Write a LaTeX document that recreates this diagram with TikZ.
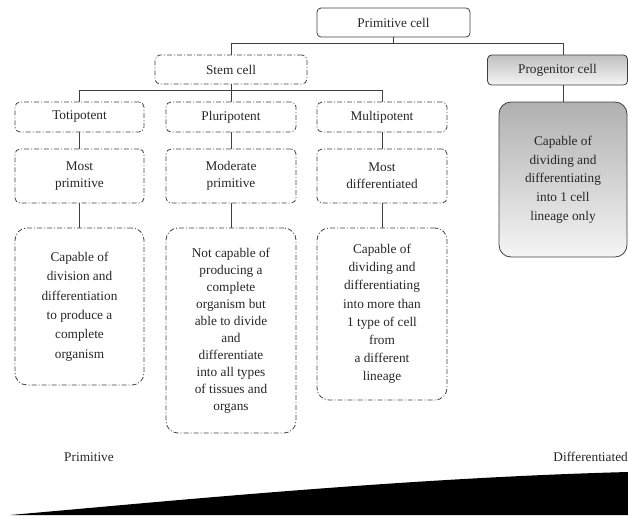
\documentclass[tikz,border=0pt]{standalone}
\usepackage{fontspec}
\setmainfont{Liberation Serif}
\usetikzlibrary{shadings}
\definecolor{ln}{gray}{0.25}
\tikzset{
  conn/.style={draw=ln, line width=0.9pt},
  dd/.style={draw=ln, line width=0.8pt, dash pattern=on 5pt off 2pt on 1pt off 2pt,
    rounded corners=5pt, inner sep=0pt, align=center, text=black!85},
  ddbig/.style={dd, rounded corners=12pt},
  solidbox/.style={draw=ln, line width=0.8pt, rounded corners=4pt, inner sep=0pt,
    align=center, text=black!85},
  lbl/.style={inner sep=0pt, text=black!85},
  txt/.style={font=\fontsize{13.3}{#1}\selectfont},
}
\begin{document}
\begin{tikzpicture}[x=1pt,y=-1pt]
\useasboundingbox (0,0) rectangle (628,515);
% wedge
\fill[black] (10,515) .. controls (160,502) and (400,478) .. (628,472) -- (628,515) -- cycle;

% top
\node[solidbox, minimum width=153pt, minimum height=29pt, txt=16] (prim) at (393.5,22.5) {Primitive cell};
\node[dd, minimum width=152pt, minimum height=29pt, txt=16] (stem) at (231,69.5) {Stem cell};
\node[solidbox, top color=gray!50, bottom color=gray!8, minimum width=140pt, minimum height=30pt, txt=16] (prog) at (557.5,70) {Progenitor cell};
\node[solidbox, rounded corners=12pt, top color=gray!62, bottom color=gray!8, minimum width=128pt, minimum height=155pt, txt=18.7] (progbig) at (563,179.5) {Capable of\\dividing and\\differentiating\\into 1 cell\\lineage only};

% row 1
\node[dd, minimum width=129pt, minimum height=30pt, txt=16] (toti) at (79.5,117) {Totipotent};
\node[dd, minimum width=130pt, minimum height=30pt, txt=16] (pluri) at (231,117) {Pluripotent};
\node[dd, minimum width=130pt, minimum height=30pt, txt=16] (multi) at (382,117) {Multipotent};

% row 2
\node[dd, minimum width=129pt, minimum height=54pt, txt=17.3] (mp) at (79.5,176) {Most\\primitive};
\node[dd, minimum width=130pt, minimum height=54pt, txt=17.3] (modp) at (231,176) {Moderate\\primitive};
\node[dd, minimum width=130pt, minimum height=54pt, txt=17.3] (md) at (382,176) {Most\\differentiated};

% row 3
\node[ddbig, minimum width=129pt, minimum height=157pt, txt=19.4] (b1) at (79.5,306.5) {Capable of\\division and\\differentiation\\to produce a\\complete\\organism};
\node[ddbig, minimum width=130pt, minimum height=205pt, txt=17] (b2) at (231,330.5) {Not capable of\\producing a\\complete\\organism but\\able to divide\\and\\differentiate\\into all types\\of tissues and\\organs};
\node[ddbig, minimum width=130pt, minimum height=172pt, txt=18.2] (b3) at (382,314) {Capable of\\dividing and\\differentiating\\into more than\\1 type of cell\\from\\a different\\lineage};

% labels
\node[lbl, txt=16] (lprim) at (89,457) {Primitive};
\node[lbl, txt=16, anchor=east] (ldiff) at (628,457) {Differentiated};

% connectors
\coordinate (j1) at (393.5,43);
\draw[conn] (prim.south) -- (j1);
\draw[conn] (stem.north) -- (stem.north |- j1) -- (progbig.north |- j1) -- (progbig.north |- prog.north);
\draw[conn] (progbig.north |- prog.south) -- (progbig.north);
\coordinate (j2) at (231,90);
\draw[conn] (stem.south) -- (pluri.north);
\draw[conn] (toti.north) -- (toti.north |- j2) -- (multi.north |- j2) -- (multi.north);
\draw[conn] (toti.south) -- (mp.north);
\draw[conn] (pluri.south) -- (modp.north);
\draw[conn] (multi.south) -- (md.north);
\draw[conn] (mp.south) -- (b1.north);
\draw[conn] (modp.south) -- (b2.north);
\draw[conn] (md.south) -- (b3.north);
\end{tikzpicture}
\end{document}
